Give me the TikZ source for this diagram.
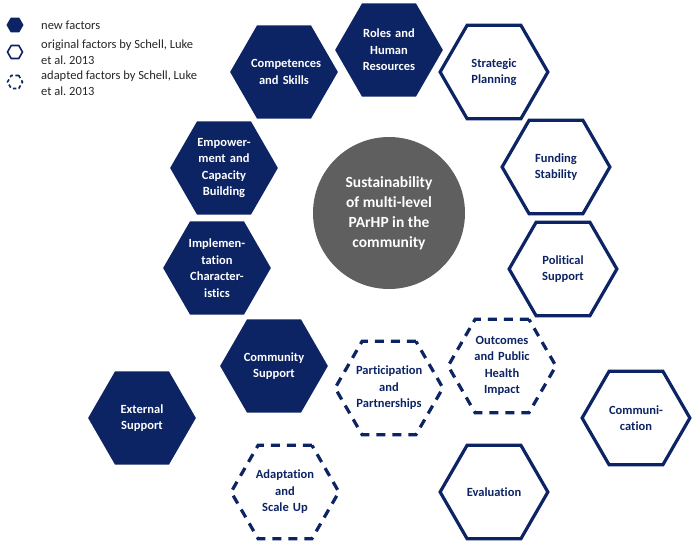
\documentclass[tikz,border=0pt]{standalone}
\usepackage{fontspec}
\setmainfont[Ligatures=NoCommon]{Carlito}
\usetikzlibrary{shapes.geometric}
\definecolor{navy}{RGB}{12,35,100}
\definecolor{core}{RGB}{95,95,95}
\begin{document}
\begin{tikzpicture}[
    x=1pt, y=-1pt,
    hexa/.style={regular polygon, regular polygon sides=6, shape border rotate=0,
                 minimum size=107pt, inner sep=0pt, text width=66pt, align=center,
                 font=\fontsize{12.5}{16.5}\selectfont\bfseries},
    newf/.style={hexa, fill=navy, text=white},
    origf/.style={hexa, draw=navy, line width=3.2pt, text=navy},
    adaptf/.style={hexa, draw=navy, line width=3.2pt, text=navy,
                   dash pattern=on 9pt off 7pt},
    mini/.style={regular polygon, regular polygon sides=6,
                 minimum size=17pt, inner sep=0pt},
    legtext/.style={anchor=west, align=left, inner sep=0pt,
                    font=\fontsize{12.5}{16}\selectfont, text=black!85}
]
\useasboundingbox (0,0) rectangle (694,542);
% legend
\node[mini, fill=navy] (lnew) at (15,25) {};
\node[mini, draw=navy, line width=1.6pt, minimum size=15pt] (lorig) at (15,52) {};
\node[mini, draw=navy, line width=1.6pt, minimum size=15pt, dash pattern=on 3.5pt off 2.5pt] (ladapt) at (15,82) {};
\node[legtext] (tnew) at (41,25) {new factors};
\node[legtext] (torig) at (41,52) {original factors by Schell, Luke\\et al.\ 2013};
\node[legtext] (tadapt) at (41,83) {adapted factors by Schell, Luke\\et al.\ 2013};
% centre
\node[circle, fill=core, minimum size=152pt, text=white, align=center,
      font=\fontsize{15.5}{20}\selectfont\bfseries] (sust) at (389,213)
      {Sustainability\\of multi-level\\PArHP in the\\community};
% new factors
\node[newf] (roles) at (389,50) {Roles and\\Human\\Resources};
\node[newf] (comp) at (284,72) {Competences\\and Skills};
\node[newf] (empow) at (224,168) {Empower-\\ment and\\Capacity\\Building};
\node[newf] (impl) at (217,268) {Implemen-\\tation\\Character-\\istics};
\node[newf] (commsup) at (274,366) {Community\\Support};
\node[newf] (ext) at (142,418) {External\\Support};
% original factors
\node[origf] (strat) at (494,72) {Strategic\\Planning};
\node[origf] (fund) at (556,167) {Funding\\Stability};
\node[origf] (polit) at (563,269) {Political\\Support};
\node[origf] (commu) at (636,418) {Communi-\\cation};
\node[origf] (eval) at (494,492) {Evaluation};
% adapted factors
\node[adaptf] (partic) at (389,388) {Participation\\and\\Partnerships};
\node[adaptf] (outc) at (502,366) {Outcomes\\and Public\\Health\\Impact};
\node[adaptf] (adapt) at (285,492) {Adaptation\\and\\Scale Up};
\end{tikzpicture}
\end{document}
